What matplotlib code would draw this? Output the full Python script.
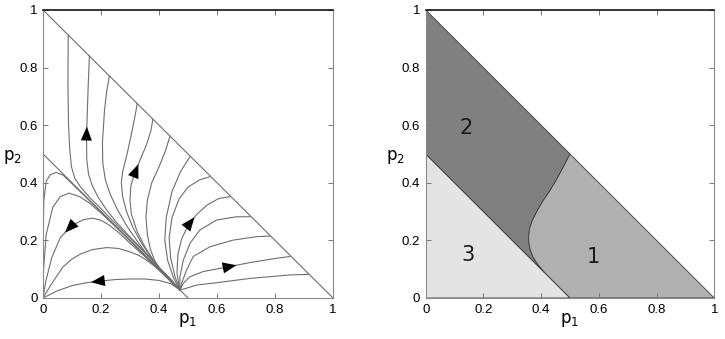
import numpy as np
import matplotlib

matplotlib.use("Agg")
import matplotlib.pyplot as plt
from matplotlib.patches import Polygon

# ---- trajectories (flow order: from the saddle on p1+p2=0.5 outwards) ----
# region 1: go to the edge p1+p2=1 on the right
r1a_p1 = [0.472, 0.450, 0.430, 0.420, 0.425, 0.445, 0.475, 0.507]
r1a_p2 = [0.028, 0.070, 0.130, 0.200, 0.280, 0.370, 0.440, 0.491]
r1b_p1 = [0.472, 0.455, 0.440, 0.435, 0.445, 0.470, 0.500, 0.540, 0.576]
r1b_p2 = [0.028, 0.075, 0.140, 0.210, 0.280, 0.345, 0.385, 0.410, 0.421]
r1c_p1 = [0.472, 0.462, 0.465, 0.478, 0.501, 0.530, 0.565, 0.605, 0.645]
r1c_p2 = [0.028, 0.086, 0.150, 0.205, 0.253, 0.290, 0.322, 0.345, 0.352]
r1d_p1 = [0.472, 0.472, 0.484, 0.507, 0.541, 0.599, 0.668, 0.714]
r1d_p2 = [0.028, 0.074, 0.132, 0.190, 0.236, 0.271, 0.282, 0.282]
r1e_p1 = [0.472, 0.478, 0.495, 0.518, 0.576, 0.656, 0.737, 0.783]
r1e_p2 = [0.028, 0.051, 0.097, 0.144, 0.178, 0.201, 0.213, 0.215]
r1f_p1 = [0.472, 0.484, 0.507, 0.553, 0.633, 0.714, 0.806, 0.852]
r1f_p2 = [0.028, 0.051, 0.074, 0.092, 0.107, 0.123, 0.138, 0.144]
r1g_p1 = [0.472, 0.495, 0.530, 0.599, 0.714, 0.852, 0.915]
r1g_p2 = [0.028, 0.034, 0.045, 0.053, 0.068, 0.080, 0.082]

# region 2: go up to the edge p1+p2=1 on the left
r2a_p1 = [0.472, 0.44, 0.40, 0.35, 0.30, 0.25, 0.20, 0.16, 0.13, 0.11, 0.098, 0.092, 0.088, 0.086, 0.087]
r2a_p2 = [0.028, 0.064, 0.106, 0.158, 0.208, 0.258, 0.310, 0.350, 0.385, 0.415, 0.456, 0.520, 0.600, 0.750, 0.913]
r2b_p1 = [0.472, 0.44, 0.40, 0.35, 0.30, 0.254, 0.22, 0.19, 0.17, 0.157, 0.151, 0.150, 0.153, 0.156, 0.160]
r2b_p2 = [0.028, 0.064, 0.106, 0.160, 0.212, 0.262, 0.305, 0.350, 0.390, 0.430, 0.480, 0.560, 0.650, 0.740, 0.840]
r2c_p1 = [0.472, 0.44, 0.40, 0.36, 0.33, 0.289, 0.255, 0.232, 0.215, 0.206, 0.205, 0.212, 0.220, 0.229]
r2c_p2 = [0.028, 0.064, 0.106, 0.150, 0.190, 0.250, 0.310, 0.360, 0.410, 0.470, 0.540, 0.650, 0.720, 0.771]
r2d_p1 = [0.472, 0.44, 0.40, 0.37, 0.34, 0.31, 0.288, 0.275, 0.270, 0.275, 0.290, 0.305, 0.317, 0.325]
r2d_p2 = [0.028, 0.064, 0.106, 0.145, 0.190, 0.245, 0.300, 0.350, 0.400, 0.440, 0.500, 0.570, 0.630, 0.675]
r2e_p1 = [0.472, 0.44, 0.40, 0.375, 0.35, 0.325, 0.305, 0.300, 0.303, 0.316, 0.335, 0.356, 0.372, 0.379]
r2e_p2 = [0.028, 0.064, 0.106, 0.140, 0.180, 0.230, 0.290, 0.340, 0.390, 0.432, 0.480, 0.530, 0.580, 0.621]
r2f_p1 = [0.472, 0.44, 0.40, 0.385, 0.37, 0.36, 0.355, 0.36, 0.375, 0.40, 0.422, 0.438]
r2f_p2 = [0.028, 0.064, 0.106, 0.130, 0.170, 0.220, 0.280, 0.34, 0.400, 0.455, 0.510, 0.562]

# region 3: go down to the origin
r3a_p1 = [0.472, 0.44, 0.40, 0.35, 0.30, 0.25, 0.20, 0.15, 0.10, 0.05, 0.0]
r3a_p2 = [0.028, 0.050, 0.061, 0.066, 0.066, 0.064, 0.059, 0.053, 0.043, 0.025, 0.0]
r3b_p1 = [0.472, 0.44, 0.414, 0.39, 0.359, 0.33, 0.30, 0.26, 0.22, 0.17, 0.128, 0.10, 0.069, 0.03, 0.0]
r3b_p2 = [0.028, 0.058, 0.084, 0.106, 0.130, 0.148, 0.160, 0.172, 0.175, 0.168, 0.152, 0.135, 0.108, 0.050, 0.0]
r3c_p1 = [0.472, 0.44, 0.40, 0.35, 0.30, 0.26, 0.23, 0.20, 0.17, 0.14, 0.10, 0.06, 0.03, 0.01, 0.0]
r3c_p2 = [0.028, 0.058, 0.097, 0.145, 0.190, 0.228, 0.252, 0.270, 0.277, 0.272, 0.252, 0.210, 0.140, 0.060, 0.0]
r3d_p1 = [0.472, 0.44, 0.40, 0.35, 0.30, 0.25, 0.20, 0.16, 0.126, 0.09, 0.06, 0.034, 0.011, 0.002, 0.0]
r3d_p2 = [0.028, 0.059, 0.098, 0.149, 0.198, 0.248, 0.295, 0.330, 0.352, 0.364, 0.352, 0.316, 0.220, 0.100, 0.0]
r3e_p1 = [0.472, 0.44, 0.40, 0.35, 0.30, 0.25, 0.20, 0.15, 0.10, 0.07, 0.045, 0.025, 0.011, 0.003, 0.0, 0.0]
r3e_p2 = [0.028, 0.059, 0.099, 0.149, 0.199, 0.249, 0.299, 0.348, 0.397, 0.426, 0.436, 0.428, 0.405, 0.340, 0.200, 0.0]

trajectories = {
    "r1a": (r1a_p1, r1a_p2), "r1b": (r1b_p1, r1b_p2), "r1c": (r1c_p1, r1c_p2),
    "r1d": (r1d_p1, r1d_p2), "r1e": (r1e_p1, r1e_p2), "r1f": (r1f_p1, r1f_p2),
    "r1g": (r1g_p1, r1g_p2),
    "r2a": (r2a_p1, r2a_p2), "r2b": (r2b_p1, r2b_p2), "r2c": (r2c_p1, r2c_p2),
    "r2d": (r2d_p1, r2d_p2), "r2e": (r2e_p1, r2e_p2), "r2f": (r2f_p1, r2f_p2),
    "r3a": (r3a_p1, r3a_p2), "r3b": (r3b_p1, r3b_p2), "r3c": (r3c_p1, r3c_p2),
    "r3d": (r3d_p1, r3d_p2), "r3e": (r3e_p1, r3e_p2),
}

# arrows: (trajectory, index of the point where the arrow sits)
arrows = [("r2b", 11), ("r2e", 9), ("r1c", 4), ("r1f", 4), ("r3c", 10), ("r3a", 6)]

# simplex edges
edge_p1 = [0, 1]
edge_p2 = [1, 0]
half_p1 = [0, 0.5]
half_p2 = [0.5, 0]

# ---- basins (right panel) ----
sep_p1 = [0.500, 0.477, 0.454, 0.430, 0.405, 0.385, 0.370, 0.361, 0.357, 0.357, 0.362, 0.372, 0.388, 0.413]
sep_p2 = [0.500, 0.455, 0.412, 0.372, 0.335, 0.300, 0.270, 0.245, 0.220, 0.195, 0.168, 0.142, 0.117, 0.087]
basin3_p1 = [0, 0.5, 0]
basin3_p2 = [0, 0, 0.5]
basin2_extra_p1 = [0, 0]
basin2_extra_p2 = [0.5, 1]
basin1_extra_p1 = [1, 0.5]
basin1_extra_p2 = [0, 0]
basin_labels = ["1", "2", "3"]
basin_label_p1 = [0.58, 0.14, 0.145]
basin_label_p2 = [0.143, 0.589, 0.148]

ticks = [0, 0.2, 0.4, 0.6, 0.8, 1]
tick_labels = ["0", "0.2", "0.4", "0.6", "0.8", "1"]

line_col = "#6e6e6e"

fig = plt.figure(figsize=(7.25, 3.39), dpi=100)
ax1 = fig.add_axes([0.0593, 0.121, 0.4, 0.8496])
ax2 = fig.add_axes([0.5872, 0.121, 0.398, 0.8496])


def style_axes(ax):
    ax.set_xlim(0, 1)
    ax.set_ylim(0, 1)
    ax.set_xticks(ticks)
    ax.set_yticks(ticks)
    ax.set_xticklabels(tick_labels, family="Liberation Sans", fontsize=9.5)
    ax.set_yticklabels(tick_labels, family="Liberation Sans", fontsize=9.5)
    ax.tick_params(direction="in", length=3.5, width=0.7, top=True, right=True,
                   color="#777777", pad=4)
    for side in ["left", "right", "bottom"]:
        ax.spines[side].set_color("#8a8a8a")
        ax.spines[side].set_linewidth(0.8)
    ax.spines["top"].set_color("black")
    ax.spines["top"].set_linewidth(1.1)
    ax.text(0.5, -0.075, r"$\mathregular{p_1}$", transform=ax.transAxes,
            ha="center", va="center", fontsize=12)
    ax.text(-0.105, 0.49, r"$\mathregular{p_2}$", transform=ax.transAxes,
            ha="center", va="center", fontsize=12)


# left panel: phase portrait
ax1.plot(edge_p1, edge_p2, color=line_col, lw=0.8)
ax1.plot(half_p1, half_p2, color=line_col, lw=0.8)
for name, (xs, ys) in trajectories.items():
    ax1.plot(xs, ys, color=line_col, lw=0.8, solid_joinstyle="round")

for name, i in arrows:
    xs, ys = trajectories[name]
    x0, y0 = xs[i], ys[i]
    dx, dy = xs[i + 1] - x0, ys[i + 1] - y0
    n = np.hypot(dx, dy)
    ax1.annotate("", xy=(x0 + 0.035 * dx / n, y0 + 0.035 * dy / n), xytext=(x0, y0),
                 arrowprops=dict(arrowstyle="-|>,head_length=1.0,head_width=0.4",
                                 color="black", lw=0, shrinkA=0, shrinkB=0))
style_axes(ax1)

# right panel: basins of attraction
edge_kw = dict(edgecolor="#3a3a3a", linewidth=0.6)
ax2.add_patch(Polygon(np.column_stack([basin3_p1, basin3_p2]), facecolor="#e4e4e4", **edge_kw))
ax2.add_patch(Polygon(np.column_stack([basin2_extra_p1 + sep_p1, basin2_extra_p2 + sep_p2]),
                      facecolor="#808080", **edge_kw))
ax2.add_patch(Polygon(np.column_stack([sep_p1[::-1] + basin1_extra_p1, sep_p2[::-1] + basin1_extra_p2]),
                      facecolor="#b0b0b0", **edge_kw))
for lab, x, y in zip(basin_labels, basin_label_p1, basin_label_p2):
    ax2.text(x, y, lab, ha="center", va="center", fontsize=15, color="#1a1a1a")
style_axes(ax2)

fig.savefig("out.png", dpi=100)
